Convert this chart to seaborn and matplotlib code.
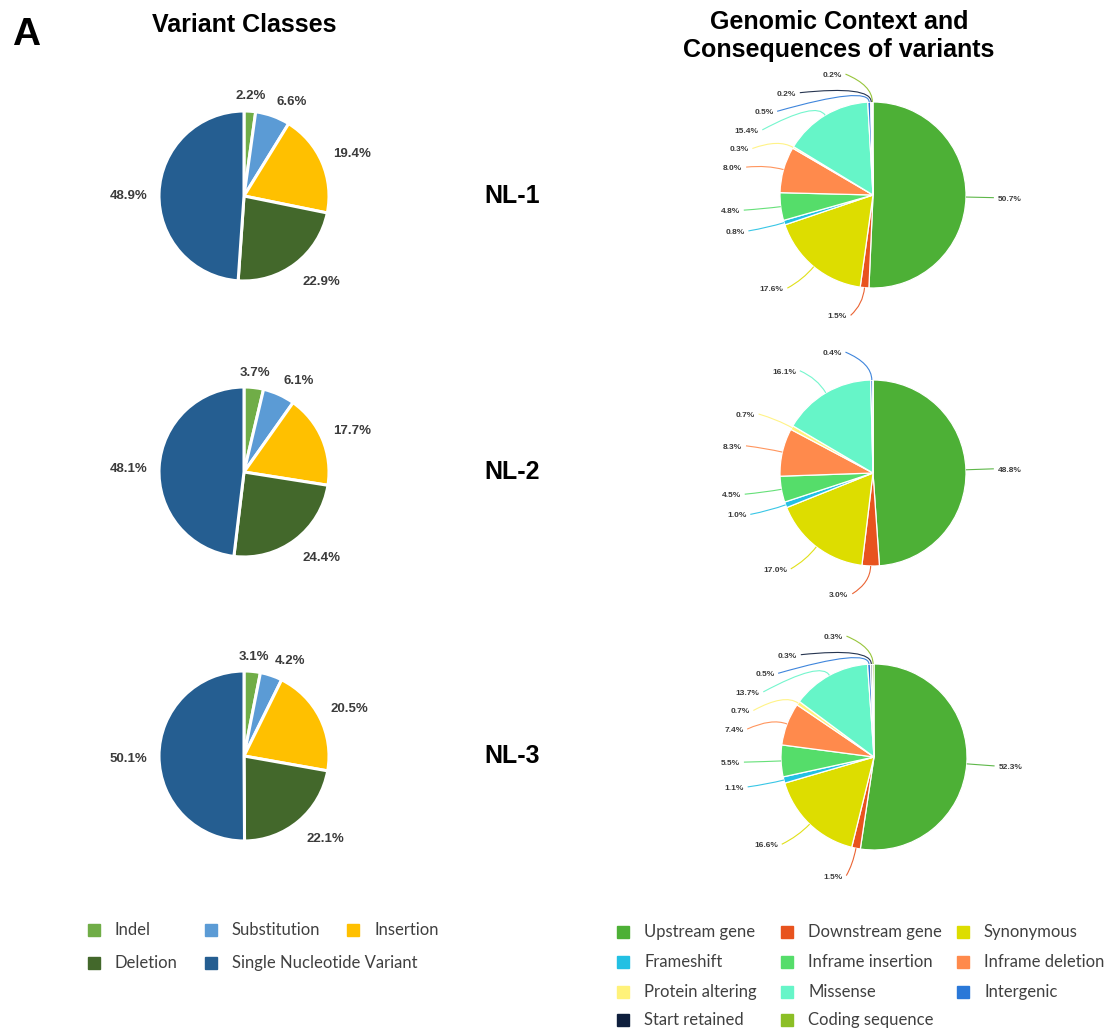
import numpy as np
import matplotlib
matplotlib.use("Agg")
import matplotlib.pyplot as plt
from matplotlib.lines import Line2D
from matplotlib.path import Path
from matplotlib.patches import PathPatch
import seaborn as sns

# ---------------------------------------------------------------- data
samples = ["NL-1", "NL-2", "NL-3"]

class_names = ["Indel", "Substitution", "Insertion", "Deletion",
               "Single Nucleotide Variant"]
class_nl1 = [2.2, 6.6, 19.4, 22.9, 48.9]
class_nl2 = [3.7, 6.1, 17.7, 24.4, 48.1]
class_nl3 = [3.1, 4.2, 20.5, 22.1, 50.1]

consequence_names = ["Upstream gene", "Downstream gene", "Synonymous",
                     "Frameshift", "Inframe insertion", "Inframe deletion",
                     "Protein altering", "Missense", "Intergenic",
                     "Start retained", "Coding sequence"]
cons_nl1 = [50.7, 1.5, 17.6, 0.8, 4.8, 8.0, 0.3, 15.4, 0.5, 0.2, 0.2]
cons_nl2 = [48.8, 3.0, 17.0, 1.0, 4.5, 8.3, 0.7, 16.1, 0.4, 0.0, 0.0]
cons_nl3 = [52.3, 1.5, 16.6, 1.1, 5.5, 7.4, 0.7, 13.7, 0.5, 0.3, 0.3]

class_colors = sns.color_palette(["#70AD47", "#5B9BD5", "#FFC000",
                                  "#43682B", "#255E91"])
cons_colors = sns.color_palette(["#4DB036", "#E8531E", "#DDDD00", "#23C0E3",
                                 "#55DD6A", "#FF8A4C", "#FFF27A", "#66F5C8",
                                 "#2A78D8", "#0F1F3D", "#8CBF26"])

# ---------------------------------------------------------------- style
sns.set_theme(style="white")
plt.rcParams["font.family"] = ["Liberation Sans", "DejaVu Sans"]

W, H = 1111, 1034
fig = plt.figure(figsize=(W / 100, H / 100), dpi=100)
fig.patch.set_facecolor("white")
LABEL_COLOR = "#3b3b3b"


def px_axes(cx, cy, r, lim):
    """Square axes centred on pixel (cx, cy) where one data unit = r px."""
    half = lim * r
    ax = fig.add_axes([(cx - half) / W, 1 - (cy + half) / H,
                       2 * half / W, 2 * half / H])
    ax.axis("off")
    return ax, lim


def fix_limits(ax, lim):
    ax.set_xlim(-lim, lim)
    ax.set_ylim(-lim, lim)
    ax.set_aspect("equal")
    ax.axis("off")


def class_pie(ax, lim, values):
    wedges, _ = ax.pie(values, colors=class_colors, startangle=90,
                       counterclock=False, radius=1.0,
                       wedgeprops=dict(edgecolor="white", linewidth=2.2))
    fix_limits(ax, lim)
    for w, v in zip(wedges, values):
        a = np.deg2rad((w.theta1 + w.theta2) / 2)
        x, y = np.cos(a), np.sin(a)
        ha = "left" if x > 0.3 else ("right" if x < -0.3 else "center")
        va = "bottom" if y > 0.3 else ("top" if y < -0.3 else "center")
        ax.text(1.14 * x, 1.14 * y - 0.035, f"{v:.1f}%", ha=ha, va=va,
                fontsize=9.5, fontweight="bold", color=LABEL_COLOR)


def consequence_pie(ax, lim, values):
    wedges, _ = ax.pie(values, colors=cons_colors, startangle=90,
                       counterclock=False, radius=1.0,
                       wedgeprops=dict(edgecolor="white", linewidth=0.9))
    fix_limits(ax, lim)
    items = []
    for w, v, c in zip(wedges, values, cons_colors):
        if v <= 0:
            continue
        a = np.deg2rad((w.theta1 + w.theta2) / 2)
        items.append(dict(x=np.cos(a), y=np.sin(a), v=v, c=c))
    gap = 0.2
    for side in (1, -1):
        group = [it for it in items if (it["x"] > 0) == (side > 0)]
        group.sort(key=lambda it: -it["y"])
        reach = 1.3 if side > 0 else 1.4
        prev = None
        for it in group:
            yl = 1.3 * it["y"]
            if prev is not None and yl > prev - gap:
                yl = prev - gap
            prev = yl
            xl = side * reach * np.sqrt(max(1 - (yl / 1.33) ** 2, 0.02))
            if side < 0 and yl < -1.1:
                xl *= 0.75
            sx, sy = it["x"], it["y"]
            path = Path([(sx, sy), (1.18 * sx, 1.18 * sy), (xl, yl)],
                        [Path.MOVETO, Path.CURVE3, Path.CURVE3])
            ax.add_patch(PathPatch(path, facecolor="none", edgecolor=it["c"],
                                   linewidth=0.8, alpha=0.9, clip_on=False))
            ax.text(xl + side * 0.04, yl - 0.015, f"{it['v']:.1f}%",
                    ha="left" if side > 0 else "right", va="center",
                    fontsize=6, fontweight="bold", color=LABEL_COLOR)


# ---------------------------------------------------------------- pies
left_centers = [(244, 196), (244, 472), (244, 756)]
right_centers = [(873, 195), (873, 473), (874, 757)]
class_sets = [class_nl1, class_nl2, class_nl3]
cons_sets = [cons_nl1, cons_nl2, cons_nl3]

for (cx, cy), vals in zip(left_centers, class_sets):
    class_pie(*px_axes(cx, cy, 85, 1.7), vals)

for (cx, cy), vals in zip(right_centers, cons_sets):
    consequence_pie(*px_axes(cx, cy, 93, 1.7), vals)

for name, (_, cy) in zip(samples, left_centers):
    fig.text(512 / W, 1 - cy / H, name, ha="center", va="center",
             fontsize=18, fontweight="bold", color="black")

# ---------------------------------------------------------------- titles
fig.text(12 / W, 1 - 45 / H, "A", ha="left", va="baseline",
         fontsize=28, fontweight="bold", color="black")
fig.text(244 / W, 1 - 25 / H, "Variant Classes", ha="center", va="center",
         fontsize=18, fontweight="bold", color="black")
fig.text(839 / W, 1 - 36 / H, "Genomic Context and\nConsequences of variants",
         ha="center", va="center", fontsize=18, fontweight="bold",
         color="black", linespacing=1.25)

# ---------------------------------------------------------------- legends
LEGEND_FONT = ["Lato", "DejaVu Sans"]


def grid_legend(names, colors, col_x, row_y, ncol):
    for i, (n, c) in enumerate(zip(names, colors)):
        x = col_x[i % ncol]
        y = row_y[i // ncol]
        fig.add_artist(Line2D([x / W], [1 - y / H], transform=fig.transFigure,
                              marker="s", markersize=8, linestyle="none",
                              markerfacecolor=c, markeredgecolor=c))
        fig.text((x + 21) / W, 1 - y / H, n, ha="left", va="center",
                 fontsize=12, color="#404040", family=LEGEND_FONT)


grid_legend(class_names, class_colors, [94, 211, 353], [930, 963], 3)
grid_legend(consequence_names, cons_colors, [623, 787, 963],
            [932, 962, 992, 1020], 3)

fig.savefig("out.png", dpi=100, facecolor="white")
